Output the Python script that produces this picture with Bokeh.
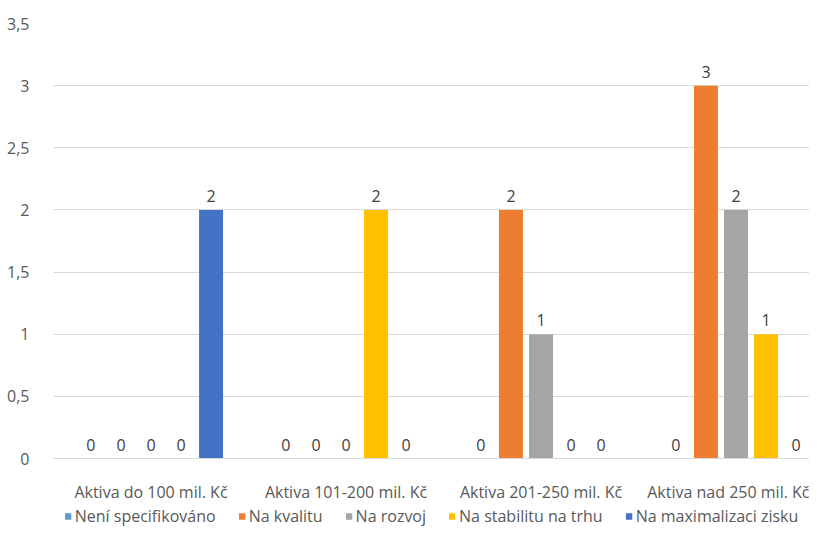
from bokeh.plotting import figure
from bokeh.models import (ColumnDataSource, Range1d, LabelSet, Legend, LegendItem,
                          FixedTicker, CustomJSTickFormatter)
from bokeh.layouts import column
from bokeh.core.properties import value
from bokeh.transform import dodge
from bokeh.embed import file_html
from bokeh.resources import INLINE

categories = ["Aktiva do 100 mil. Kč", "Aktiva 101-200 mil. Kč", "Aktiva 201-250 mil. Kč", "Aktiva nad 250 mil. Kč"]
series_names = ["Není specifikováno", "Na kvalitu", "Na rozvoj", "Na stabilitu na trhu", "Na maximalizaci zisku"]
nespecifikovano = [0, 0, 0, 0]
na_kvalitu = [0, 0, 2, 3]
na_rozvoj = [0, 0, 1, 2]
na_stabilitu = [0, 2, 0, 1]
na_maximalizaci = [2, 0, 0, 0]
series_values = [nespecifikovano, na_kvalitu, na_rozvoj, na_stabilitu, na_maximalizaci]
colors = ["#5B9BD5", "#ED7D31", "#A5A5A5", "#FFC000", "#4472C4"]
y_ticks = [0, 0.5, 1, 1.5, 2, 2.5, 3, 3.5]

FONT = "Open Sans"
FS = "16px"
TXT = "#595959"

# category slots on a numeric axis (slot centre = index + 0.5)
xpos = [i + 0.5 for i in range(len(categories))]

p = figure(width=809, height=505, x_range=Range1d(0, 3.877), y_range=Range1d(0, 3.5),
           output_backend="svg", toolbar_location=None, min_border_top=23, min_border_left=53,
           min_border_right=0, min_border_bottom=45)
p.outline_line_color = None
p.xgrid.grid_line_color = None
p.ygrid.grid_line_color = "#D9D9D9"
p.ygrid.grid_line_width = 1
p.yaxis.ticker = FixedTicker(ticks=y_ticks)
p.yaxis.formatter = CustomJSTickFormatter(code="return tick.toString().replace('.', ',');")
p.yaxis.axis_line_color = None
p.yaxis.major_tick_line_color = None
p.yaxis.minor_tick_line_color = None
p.yaxis.major_label_text_font = FONT
p.yaxis.major_label_text_font_size = FS
p.yaxis.major_label_text_color = TXT
p.yaxis.major_label_standoff = 18
p.xaxis.ticker = FixedTicker(ticks=xpos)
p.xaxis.major_label_overrides = {x: c for x, c in zip(xpos, categories)}
p.xaxis.axis_line_color = "#D9D9D9"
p.xaxis.major_tick_line_color = None
p.xaxis.minor_tick_line_color = None
p.xaxis.major_label_text_font = FONT
p.xaxis.major_label_text_font_size = FS
p.xaxis.major_label_text_color = TXT
p.xaxis.major_label_standoff = 16

step = 0.154
width = 0.123
sources = []
for i, (name, vals, col) in enumerate(zip(series_names, series_values, colors)):
    off = (i - 2) * step
    src = ColumnDataSource(dict(x=xpos, top=vals, lab=[str(v) for v in vals]))
    sources.append(src)
    p.vbar(x=dodge("x", off), top="top", width=width, source=src,
           fill_color=col, line_color=None)
    lbl = LabelSet(x=dodge("x", off), y="top", text="lab", source=src,
                   text_align="center", text_baseline="bottom", y_offset=8,
                   text_font=value(FONT), text_font_size=value(FS), text_color="#404040")
    p.add_layout(lbl)

# legend in its own strip (renderers share the data but lie outside this strip's ranges)
lg = figure(width=809, height=21, x_range=Range1d(100, 101), y_range=Range1d(100, 101),
            output_backend="svg", toolbar_location=None, min_border=0)
lg.axis.visible = False
lg.grid.visible = False
lg.outline_line_color = None
items = []
for name, col, src in zip(series_names, colors, sources):
    r = lg.vbar(x="x", top="top", width=width, source=src, fill_color=col, line_color=None)
    items.append(LegendItem(label=name, renderers=[r]))
legend = Legend(items=items, orientation="horizontal", location="center",
                label_text_font=FONT, label_text_font_size=FS, label_text_color=TXT,
                glyph_width=8, glyph_height=8, label_standoff=3, spacing=22,
                border_line_color=None, background_fill_alpha=0, padding=0, margin=0)
lg.add_layout(legend)

layout = column(p, lg, spacing=0)
open("out.html", "w").write(file_html(layout, INLINE))
